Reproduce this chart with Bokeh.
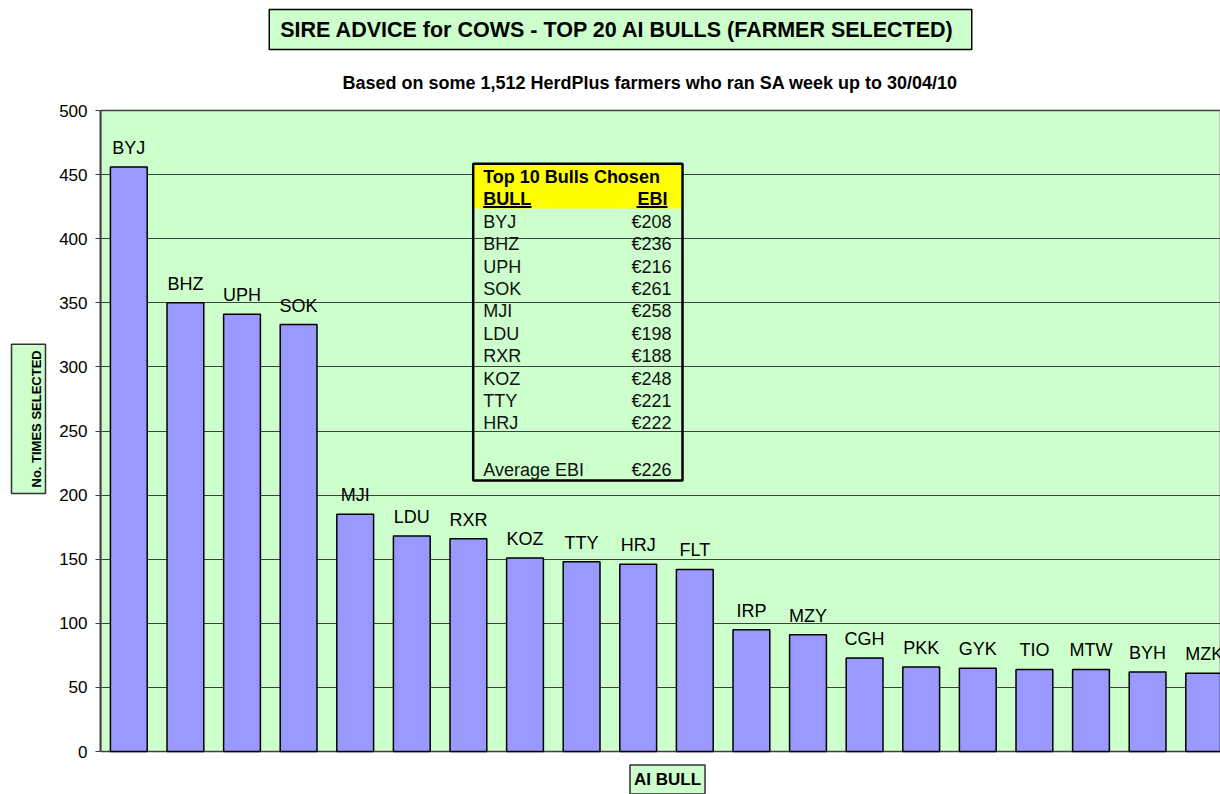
from bokeh.plotting import figure
from bokeh.models import (Range1d, BoxAnnotation, FixedTicker, ColumnDataSource,
                          Title, Label)
from bokeh.core.properties import value
from bokeh.embed import file_html
from bokeh.resources import INLINE

# ---- data ----
bulls = ["BYJ", "BHZ", "UPH", "SOK", "MJI", "LDU", "RXR", "KOZ", "TTY", "HRJ",
         "FLT", "IRP", "MZY", "CGH", "PKK", "GYK", "TIO", "MTW", "BYH", "MZK"]
times_selected = [456, 350, 341, 333, 185, 168, 166, 151, 148, 146,
                  142, 95, 91, 73, 66, 65, 64, 64, 62, 61]
top10_bulls = ["BYJ", "BHZ", "UPH", "SOK", "MJI", "LDU", "RXR", "KOZ", "TTY", "HRJ"]
top10_ebi = [208, 236, 216, 261, 258, 198, 188, 248, 221, 222]
average_ebi = 226
y_ticks = [0, 50, 100, 150, 200, 250, 300, 350, 400, 450, 500]

title_text = "SIRE ADVICE for COWS - TOP 20  AI BULLS (FARMER SELECTED)"
subtitle_text = "Based on some 1,512 HerdPlus farmers who ran SA week up to 30/04/10"
y_label = "No. TIMES SELECTED"
x_label = "AI BULL"

FONT = "Liberation Sans"

# ---- layout constants (pixels, canvas coordinates) ----
W, H = 1220, 794
FL = 100                 # frame left
PT, PB = 110, 751        # plot-area top / bottom (y = 500 / y = 0)
YMAX = y_ticks[-1]
PXY = (PB - PT) / YMAX   # px per unit
CAT_PX = 56.6
X0 = -0.5
X1 = X0 + (W - FL) / CAT_PX

def dx(px):
    return X0 + (px - FL) / CAT_PX

def dy(py):
    return (PB - py) / PXY

p = figure(width=W, height=H, output_backend="svg", toolbar_location=None, title=None,
           x_axis_location=None,
           x_range=Range1d(X0, X1), y_range=Range1d(dy(H), dy(0)),
           min_border_left=FL, min_border_right=0, min_border_top=0,
           min_border_bottom=0)
p.background_fill_color = "white"
p.border_fill_color = "white"
p.outline_line_color = None
p.xgrid.visible = False

# green plot area
p.add_layout(BoxAnnotation(bottom=0, top=YMAX, fill_color="#CCFFCC", fill_alpha=1,
                           line_color="#999999", line_alpha=1, line_width=2,
                           level="image"))

p.ygrid.grid_line_color = "#404040"
p.ygrid.grid_line_width = 1

p.yaxis.ticker = FixedTicker(ticks=y_ticks)
p.yaxis.bounds = (0, YMAX)
p.yaxis.minor_tick_line_color = None
p.yaxis.major_tick_in = 0
p.yaxis.major_tick_out = 5
p.yaxis.major_tick_line_color = "#404040"
p.yaxis.axis_line_color = "#404040"
p.yaxis.axis_line_width = 2
p.yaxis.major_label_standoff = 8
p.yaxis.major_label_text_font = FONT
p.yaxis.major_label_text_font_size = "17px"
p.yaxis.major_label_text_color = "black"

idx = list(range(len(bulls)))
src = ColumnDataSource(dict(x=idx, top=times_selected, name=bulls))
p.vbar(x="x", top="top", bottom=0, width=0.65, source=src, fill_color="#9999FF",
       line_color="black", line_width=1.5)
p.text(x="x", y="top", text="name", source=src, y_offset=-19,
       text_align="center", text_baseline="middle",
       text_font=value(FONT), text_font_size="18px", text_color="black")

# ---- inset table ----
tl, tr, tt, tb, th = 472.7, 682, 163.3, 480, 208
p.add_layout(BoxAnnotation(left=dx(tl), right=dx(tr), top=dy(tt), bottom=dy(th),
                           fill_color="#FFFF00", fill_alpha=1, line_alpha=0,
                           level="underlay"))
p.add_layout(BoxAnnotation(left=dx(tl), right=dx(tr), top=dy(tt), bottom=dy(tb),
                           fill_alpha=0, line_color="black", line_alpha=1, line_width=2.5,
                           level="underlay"))
for ul, ur in [(482.7, 531), (636, 667)]:
    p.add_layout(BoxAnnotation(left=dx(ul), right=dx(ur), top=dy(205.5), bottom=dy(207.5),
                               fill_color="black", fill_alpha=1, line_alpha=0,
                               level="underlay"))

left_x = dx(482.7)
right_x = dx(671)
row0, rstep = 221.3, 22.4
hdr = dict(text_font=value(FONT), text_font_size="18px", text_font_style="bold",
           text_baseline="middle", text_color="black")
p.text(x=[left_x], y=[dy(176.3)], text=["Top 10 Bulls Chosen"], text_align="left", **hdr)
p.text(x=[left_x], y=[dy(198.5)], text=["BULL"], text_align="left", **hdr)
p.text(x=[dx(667)], y=[dy(198.5)], text=["EBI"], text_align="right", **hdr)

row_names = top10_bulls + ["Average EBI"]
row_vals = ["\u20ac%d" % v for v in top10_ebi] + ["\u20ac%d" % average_ebi]
row_ys = [dy(row0 + rstep * i) for i in range(len(top10_bulls))] + [dy(469.5)]
body = dict(text_font=value(FONT), text_font_size="18px",
            text_baseline="middle", text_color="#111111")
p.text(x=[left_x] * len(row_names), y=row_ys, text=row_names, text_align="left", **body)
p.text(x=[right_x] * len(row_vals), y=row_ys, text=row_vals, text_align="right", **body)

# ---- titles / axis labels ----
p.add_layout(Label(x=dx(620), y=dy(29), text=title_text, text_align="center",
                   text_baseline="middle", text_font=FONT, text_font_size="21.5px",
                   text_font_style="bold", text_color="black",
                   background_fill_color="#CCFFCC", border_line_color="black",
                   border_line_width=1.5,
                   padding=dict(left=11, right=11, top=8, bottom=8)))
p.add_layout(Label(x=dx(342), y=dy(82), text=subtitle_text, text_align="left",
                   text_baseline="middle", text_font=FONT, text_font_size="18px",
                   text_font_style="bold", text_color="black"))
p.add_layout(Label(x=dx(667), y=dy(779), text=x_label, text_align="center",
                   text_baseline="middle", text_font=FONT, text_font_size="17px",
                   text_font_style="bold", text_color="black",
                   background_fill_color="#CCFFCC", border_line_color="#333333",
                   border_line_width=1.5,
                   padding=dict(left=4, right=4, top=5, bottom=5)))

yl = Title(text=y_label, align="left", offset=301, standoff=22,
           text_font=FONT, text_font_size="13px", text_font_style="bold",
           text_color="black", background_fill_color="#CCFFCC",
           border_line_color="#333333", border_line_width=1.5,
           padding=dict(left=6, right=6, top=17, bottom=2))
p.add_layout(yl, "left")

open("out.html", "w").write(file_html(p, INLINE))
